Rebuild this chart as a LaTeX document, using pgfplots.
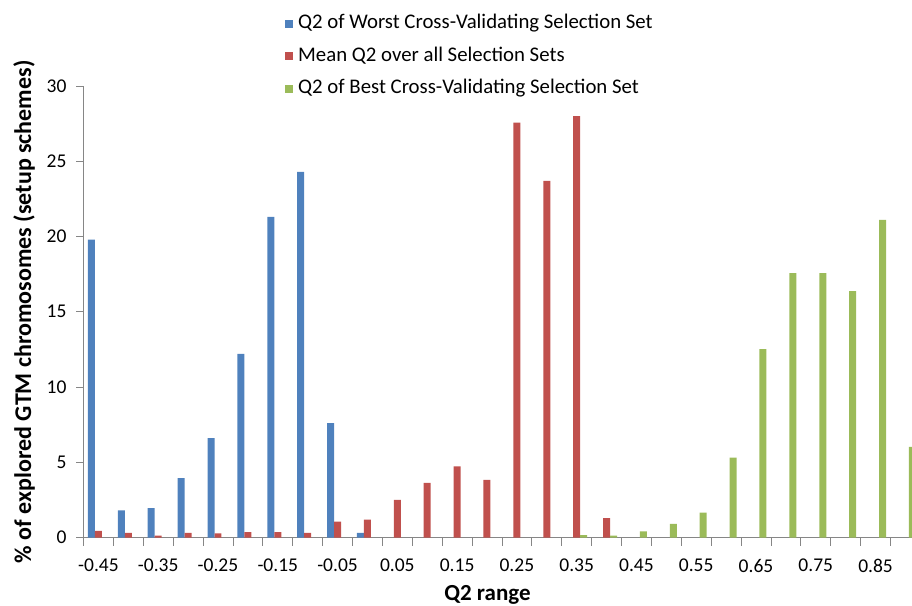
\documentclass[border=0pt]{standalone}
\usepackage{pgfplots}
\pgfplotsset{compat=1.18}
\usepackage{fontspec}
\setmainfont{Carlito}
\usetikzlibrary{calc}
\definecolor{wblue}{HTML}{4F81BD}
\definecolor{mred}{HTML}{C0504D}
\definecolor{bgreen}{HTML}{9BBB59}
\definecolor{axgray}{HTML}{868686}

\begin{document}
\begin{tikzpicture}
\begin{axis}[
  name=ax,
  scale only axis, width=828.5bp, height=451.5bp,
  xmin=-0.5, xmax=27.22, ymin=0, ymax=30,
  axis x line*=bottom, axis y line*=left,
  axis line style={axgray, line width=0.8bp},
  ybar=0pt, bar width=0.234,
  tick align=outside, major tick length=7bp, minor tick length=8bp,
  tick style={axgray, line width=0.8bp},
  ytick={0,5,...,30},
  xtick={0,...,27},
  xticklabels={-0.45,,-0.35,,-0.25,,-0.15,,-0.05,,0.05,,0.15,,0.25,,0.35,,0.45,,0.55,,0.65,,0.75,,0.85,},
  minor xtick={-0.5,0.5,...,27.5},
  every major x tick/.append style={draw=none},
  ticklabel style={font=\fontsize{19.5bp}{21bp}\selectfont, black},
  xticklabel style={yshift=-11bp},
  yticklabel style={xshift=-6.5bp},
  /pgf/number format/assume math mode=true,
  ylabel={\% of explored GTM chromosomes (setup schemes)},
  xlabel={Q2 range},
  every axis y label/.style={at={(axis description cs:-0.0718,0.5)}, rotate=90, anchor=center,
    font=\bfseries\fontsize{24bp}{26bp}\selectfont},
  every axis x label/.style={at={(axis description cs:0.4876,-0.139)}, anchor=base,
    font=\bfseries\fontsize{23bp}{25bp}\selectfont},
  legend style={at={(0.2432,1.158)}, anchor=north west, draw=none, fill=none,
    inner sep=0pt, row sep=14.5bp, column sep=5bp,
    font=\fontsize{20.8bp}{24bp}\selectfont,
    nodes={inner sep=0pt, text height=14bp, text depth=4bp}},
  legend cell align=left,
  legend image code/.code={\fill[#1] (0bp,-4bp) rectangle (8bp,4bp);},
]
% x = category index: 0 -> -0.45, 1 -> -0.40, ..., 27 -> 0.90
\addplot[fill=wblue, draw=none] coordinates {
  (0,19.8) (1,1.8) (2,1.95) (3,3.94) (4,6.6) (5,12.2) (6,21.3) (7,24.3) (8,7.6) (9,0.3)
};
\addlegendentry{Q2 of Worst Cross-Validating Selection Set}
\addplot[fill=mred, draw=none] coordinates {
  (0,0.44) (1,0.31) (2,0.13) (3,0.31) (4,0.27) (5,0.35) (6,0.35) (7,0.31) (8,1.06)
  (9,1.19) (10,2.5) (11,3.63) (12,4.73) (13,3.83) (14,27.56) (15,23.69) (16,28.0) (17,1.28)
};
\addlegendentry{Mean Q2 over all Selection Sets}
\addplot[fill=bgreen, draw=none] coordinates {
  (16,0.15) (17,0.12) (18,0.40) (19,0.90) (20,1.66) (21,5.31) (22,12.52)
  (23,17.57) (24,17.57) (25,16.37) (26,21.11) (27,6.02)
};
\addlegendentry{Q2 of Best Cross-Validating Selection Set}
\end{axis}
\pgfresetboundingbox
\path[use as bounding box] ($(ax.south west)+(-83.5bp,-68.5bp)$) rectangle ($(ax.north east)+(0bp,86bp)$);
\end{tikzpicture}
\end{document}
